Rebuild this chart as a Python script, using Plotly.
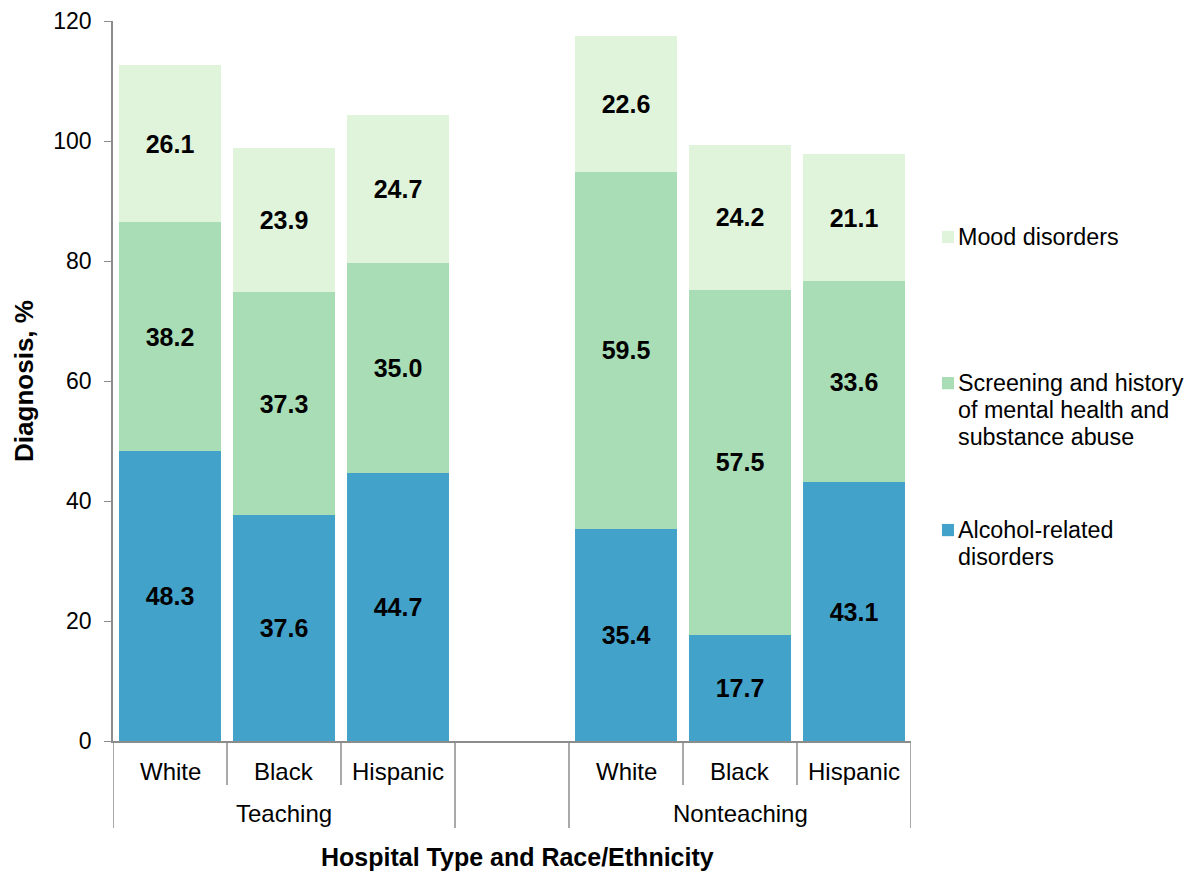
import plotly.graph_objects as go

# ---- data ----
hospital_types = ["Teaching", "Nonteaching"]
races = ["White", "Black", "Hispanic"]
alcohol = [48.3, 37.6, 44.7, 35.4, 17.7, 43.1]
screening = [38.2, 37.3, 35.0, 59.5, 57.5, 33.6]
mood = [26.1, 23.9, 24.7, 22.6, 24.2, 21.1]
series_names = ["Alcohol-related<br>disorders",
                "Screening and history<br>of mental health and<br>substance abuse",
                "Mood disorders"]
colors = ["#43A2CA", "#A8DDB5", "#E0F3DB"]
y_ticks = [0, 20, 40, 60, 80, 100, 120]

FONT = "Liberation Sans, Arial, sans-serif"
FS = 24
AX = "#8C8C8C"

# positions: 3 races per group, with an empty slot between groups
xpos = []
for g in range(len(hospital_types)):
    for r in range(len(races)):
        xpos.append(g * (len(races) + 1) + r)

fig = go.Figure()
for vals, name, col in zip([alcohol, screening, mood], series_names, colors):
    fig.add_trace(go.Bar(
        x=xpos, y=vals, name=name, marker=dict(color=col, line=dict(width=0)),
        width=0.9, text=vals, texttemplate="<b>%{y:.1f}</b>",
        textposition="inside", insidetextanchor="middle", textangle=0,
        constraintext="none",
        textfont=dict(family=FONT, size=25, color="black"),
        showlegend=False, hoverinfo="skip"))

nslots = len(hospital_types) * (len(races) + 1) - 1
group_edges = set()
for g in range(len(hospital_types)):
    group_edges.add(g * (len(races) + 1) - 0.5)
    group_edges.add(g * (len(races) + 1) + len(races) - 0.5)

shapes = []
annotations = []
# category tick lines
for i in range(nslots + 1):
    b = i - 0.5
    long = b in group_edges
    shapes.append(dict(type="line", xref="x", yref="paper", x0=b, x1=b,
                       y0=0, y1=-0.121 if long else -0.061,
                       line=dict(color=AX, width=1.5)))
for i, x in enumerate(xpos):
    annotations.append(dict(x=x, y=-0.042, xref="x", yref="paper", text=races[i % len(races)],
                            showarrow=False, yanchor="middle",
                            font=dict(family=FONT, size=FS, color="black")))
for g, ht in enumerate(hospital_types):
    annotations.append(dict(x=g * (len(races) + 1) + 1, y=-0.1, xref="x", yref="paper", text=ht,
                            showarrow=False, yanchor="middle",
                            font=dict(family=FONT, size=FS, color="black")))
annotations.append(dict(x=0.507, y=-0.161, xref="paper", yref="paper",
                        text="<b>Hospital Type and Race/Ethnicity</b>",
                        showarrow=False, yanchor="middle",
                        font=dict(family=FONT, size=25, color="black")))

# legend (manual)
legend_y = [0.293, 0.497, 0.700]
line_step = 27.0 / 720
for name, col, ly in zip(series_names, colors, legend_y):
    shapes.append(dict(type="rect", xref="paper", yref="paper",
                       x0=1.0388, x1=1.0539, y0=ly - 0.0085, y1=ly + 0.0085,
                       fillcolor=col, line=dict(width=0)))
    for k, part in enumerate(name.split("<br>")):
        annotations.append(dict(x=1.057, y=ly - k * line_step, xref="paper", yref="paper",
                                text=part, showarrow=False, xanchor="left", yanchor="middle",
                                align="left",
                                font=dict(family=FONT, size=23.3, color="black")))

fig.update_layout(
    width=1184, height=865,
    margin=dict(l=105, r=281, t=13, b=132, autoexpand=False),
    plot_bgcolor="white", paper_bgcolor="white",
    barmode="stack", bargap=0.1,
    font=dict(family=FONT, size=FS, color="black"),
    xaxis=dict(range=[-0.5, nslots - 0.5], showticklabels=False, ticks="",
               showline=True, linecolor=AX, linewidth=1.5, showgrid=False, zeroline=False,
               automargin=False),
    yaxis=dict(range=[0, 120], tickvals=y_ticks, ticks="outside", ticklen=7,
               tickcolor=AX, showline=True, linecolor=AX, linewidth=1.5,
               showgrid=False, zeroline=False, ticklabelstandoff=8, automargin=False,
               tickfont=dict(family=FONT, size=23, color="black"),
               title=dict(text="<b>Diagnosis, %</b>", standoff=12,
                          font=dict(family=FONT, size=26, color="black"))),
    shapes=shapes, annotations=annotations,
)
fig.write_html("out.html")
